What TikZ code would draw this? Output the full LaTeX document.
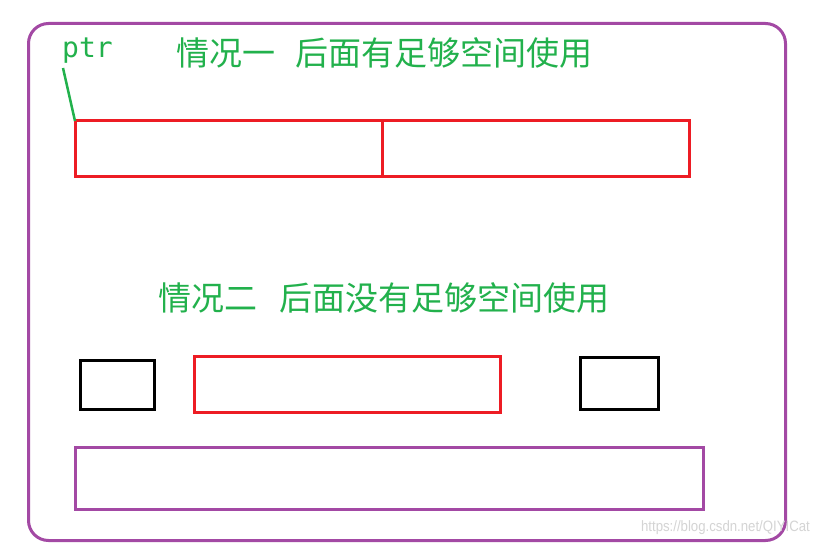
\documentclass[tikz,border=0pt]{standalone}
\usepackage{fontspec}
\newfontfamily\cjk{Noto Sans CJK SC}
\newfontfamily\monof{DejaVu Sans Mono}
\newfontfamily\wmfont{Liberation Sans}
\definecolor{pgreen}{HTML}{22B14C}
\definecolor{pred}{HTML}{ED1C24}
\definecolor{ppurple}{HTML}{A349A4}
\definecolor{wmgray}{HTML}{D4D4D4}
\tikzset{
  box/.style={draw, line width=3pt, inner sep=0pt, outer sep=0pt, anchor=north west},
  redbox/.style={box, draw=pred},
  blackbox/.style={box, draw=black},
  purplebox/.style={box, draw=ppurple},
  title/.style={text=pgreen, font=\cjk\fontsize{33}{36}\selectfont, inner sep=0pt},
}
\begin{document}
\begin{tikzpicture}[x=1pt,y=-1pt]
\useasboundingbox[fill=white] (0,0) rectangle (819,548);
\node[draw=ppurple, line width=3pt, rounded corners=20pt, inner sep=0pt, anchor=north west,
      minimum width=757pt, minimum height=517pt] (frame) at (27,22) {};
\node[text=pgreen, font=\monof\fontsize{28}{30}\selectfont, inner sep=0pt, anchor=base west] (ptr) at (62,58) {ptr};
\node[title] (t1) at (384,53) {情况一\hspace{20pt}后面有足够空间使用};
\node[redbox, minimum width=307pt, minimum height=56pt] (r1) at (75,121) {};
\node[redbox, minimum width=307pt, minimum height=56pt] (r2) at (382,121) {};
\coordinate (ptrtail) at (63,68);
\draw[pgreen, line width=2.5pt] (ptrtail) -- (r1.north west);
\node[title] (t2) at (384,298) {情况二\hspace{22pt}后面没有足够空间使用};
\node[blackbox, minimum width=74pt, minimum height=49pt] (b1) at (80,360) {};
\node[redbox, minimum width=306pt, minimum height=56pt] (r3) at (194,356) {};
\node[blackbox, minimum width=78pt, minimum height=52pt] (b2) at (580,357) {};
\node[purplebox, minimum width=628pt, minimum height=62pt] (p1) at (75,447) {};
\node[text=wmgray, font=\wmfont\fontsize{15}{16}\selectfont, inner sep=0pt, xscale=0.88, anchor=east] (wm) at (810,528) {https://blog.csdn.net/QIYICat};
\end{tikzpicture}
\end{document}
